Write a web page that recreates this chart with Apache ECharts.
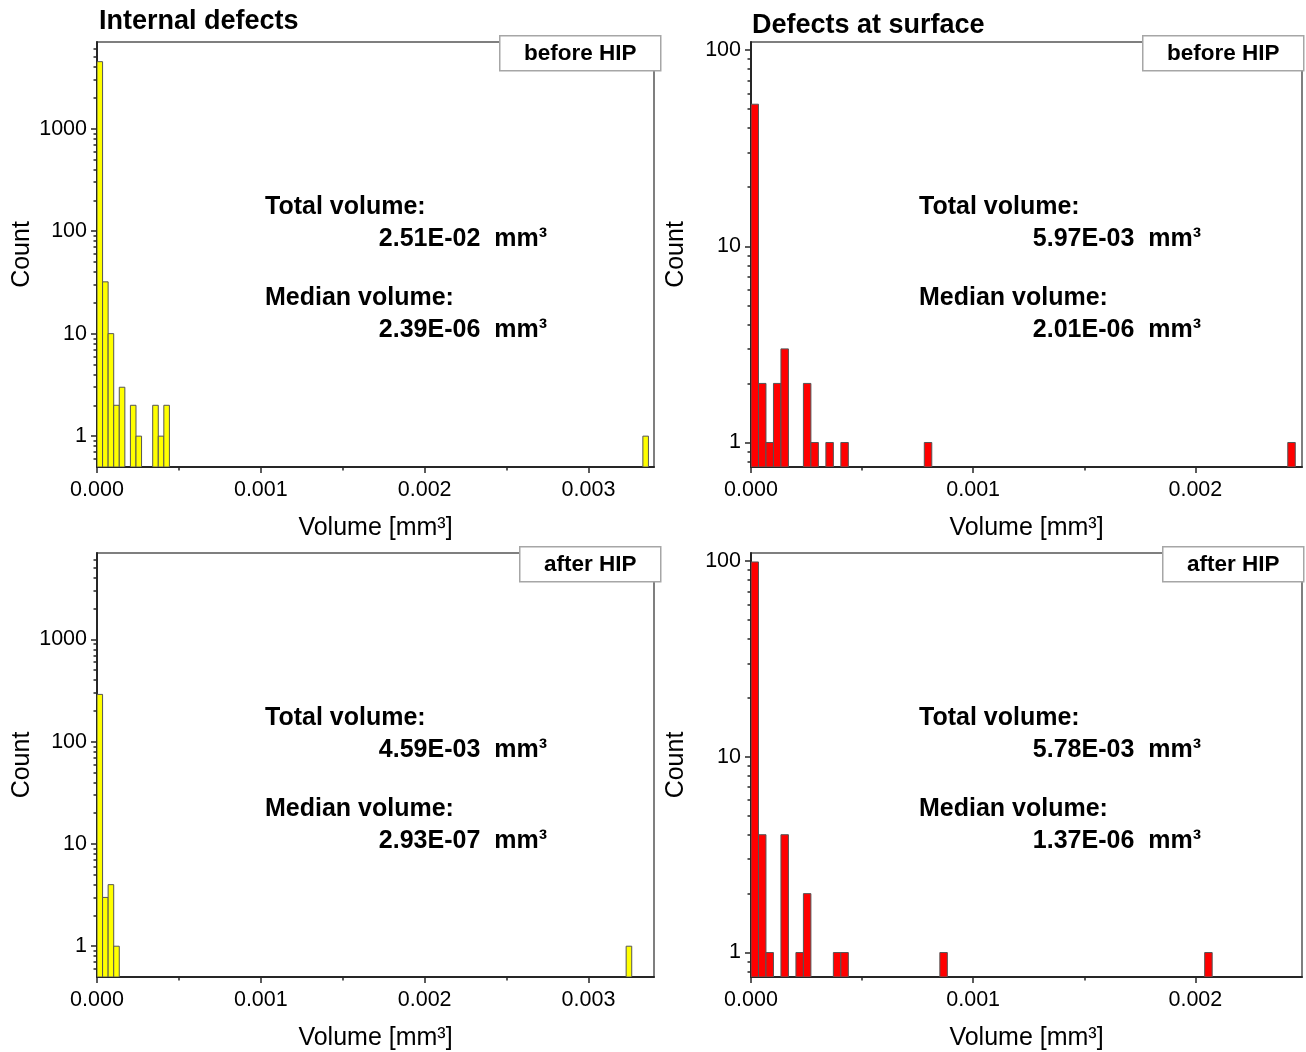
<!DOCTYPE html>
<html><head><meta charset="utf-8">
<script src="https://cdn.jsdelivr.net/npm/echarts@6/dist/echarts.min.js"></script>
<style>html,body{margin:0;padding:0;background:#fff}#c{width:1306px;height:1052px}</style>
</head><body><div id="c"></div>
<script>
// ---------- data ----------
const internalBinWidth = 3.4e-5;   // mm³ per histogram bin
const surfaceBinWidth = 3.37e-5;

const internalBeforeCounts = [4500, 32, 10, 2, 3, 0, 2, 1, 0, 0, 2, 1, 2];
const internalBeforeOutlierStart = [3.332e-3];
const internalBeforeOutlierCount = [1];

const internalAfterCounts = [290, 3, 4, 1];
const internalAfterOutlierStart = [3.23e-3];
const internalAfterOutlierCount = [1];

const surfaceBeforeCounts = [53, 2, 1, 2, 3, 0, 0, 2, 1, 0, 1, 0, 1];
const surfaceBeforeOutlierStart = [7.8e-4, 2.416e-3];
const surfaceBeforeOutlierCount = [1, 1];

const surfaceAfterCounts = [99, 4, 1, 0, 4, 0, 1, 2, 0, 0, 0, 1, 1];
const surfaceAfterOutlierStart = [8.5e-4, 2.042e-3];
const surfaceAfterOutlierCount = [1, 1];

const internalXTicks = [0, 0.001, 0.002, 0.003];
const internalXMinor = [0.0005, 0.0015, 0.0025];
const surfaceXTicks = [0, 0.001, 0.002];
const surfaceXMinor = [0.0005, 0.0015];
const internalYTicks = [1, 10, 100, 1000];
const surfaceYTicks = [1, 10, 100];

const panelTitles = ['Internal defects', 'Defects at surface'];
const stateLabels = ['before HIP', 'after HIP'];
const totalVolumes = ['2.51E-02', '5.97E-03', '4.59E-03', '5.78E-03'];
const medianVolumes = ['2.39E-06', '2.01E-06', '2.93E-07', '1.37E-06'];

// ---------- helpers ----------
function binsToData(counts, width, outStart, outCount, w2) {
  const d = [];
  counts.forEach((c, i) => { if (c > 0) d.push([i * width, (i + 1) * width, c]); });
  outStart.forEach((s, i) => d.push([s, s + w2, outCount[i]]));
  return d;
}
function minorLog(min, max) {
  const r = [];
  for (let e = -1; e <= 4; e++) {
    for (let m = 2; m <= 9; m++) {
      const v = +(m * Math.pow(10, e)).toPrecision(6);
      if (v > min * 1.001 && v < max * 0.999) r.push(v);
    }
  }
  return r;
}

const FONT = 'Liberation Sans, Arial, sans-serif';
const panels = [
  { grid: { left: 97, top: 42, width: 557, height: 425 }, xMax: 0.0034, yMin: 0.5, yMax: 7000,
    xt: internalXTicks, xm: internalXMinor, yt: internalYTicks, color: '#ffff00',
    data: binsToData(internalBeforeCounts, internalBinWidth, internalBeforeOutlierStart, internalBeforeOutlierCount, internalBinWidth) },
  { grid: { left: 751, top: 42, width: 551, height: 425 }, xMax: 0.00248, yMin: 0.75, yMax: 110,
    xt: surfaceXTicks, xm: surfaceXMinor, yt: surfaceYTicks, color: '#ff0000',
    data: binsToData(surfaceBeforeCounts, surfaceBinWidth, surfaceBeforeOutlierStart, surfaceBeforeOutlierCount, surfaceBinWidth) },
  { grid: { left: 97, top: 553, width: 557, height: 424 }, xMax: 0.0034, yMin: 0.5, yMax: 7000,
    xt: internalXTicks, xm: internalXMinor, yt: internalYTicks, color: '#ffff00',
    data: binsToData(internalAfterCounts, internalBinWidth, internalAfterOutlierStart, internalAfterOutlierCount, internalBinWidth) },
  { grid: { left: 751, top: 553, width: 551, height: 424 }, xMax: 0.00248, yMin: 0.75, yMax: 110,
    xt: surfaceXTicks, xm: surfaceXMinor, yt: surfaceYTicks, color: '#ff0000',
    data: binsToData(surfaceAfterCounts, surfaceBinWidth, surfaceAfterOutlierStart, surfaceAfterOutlierCount, surfaceBinWidth) }
];

const grids = [], xAxes = [], yAxes = [], series = [], graphics = [];
const axisLine = { show: true, onZero: false, lineStyle: { color: '#262626', width: 2 } };
panels.forEach((p, i) => {
  grids.push(Object.assign({ show: true, borderColor: '#555', borderWidth: 1.5, backgroundColor: 'transparent' }, p.grid));
  // major x axis
  xAxes.push({ type: 'value', gridIndex: i, position: 'bottom', min: 0, max: p.xMax, axisLine,
    splitLine: { show: false },
    axisTick: { show: true, length: 6, customValues: p.xt, lineStyle: { color: '#262626', width: 1.5 } },
    axisLabel: { customValues: p.xt, margin: 12, color: '#000', fontSize: 21.5, fontFamily: FONT,
      formatter: v => Number(v).toFixed(3) },
    name: 'Volume [mm³]', nameLocation: 'middle', nameGap: 49,
    nameTextStyle: { color: '#000', fontSize: 25, fontFamily: FONT } });
  // minor x axis
  xAxes.push({ type: 'value', gridIndex: i, position: 'bottom', min: 0, max: p.xMax, axisLine: { show: false },
    splitLine: { show: false }, axisLabel: { show: false },
    axisTick: { show: true, length: 3.5, customValues: p.xm, lineStyle: { color: '#262626', width: 1.5 } } });
  // major y axis (log)
  yAxes.push({ type: 'log', logBase: 10, gridIndex: i, position: 'left', min: p.yMin, max: p.yMax, axisLine,
    splitLine: { show: false }, minorTick: { show: false },
    axisTick: { show: true, length: 6, customValues: p.yt, lineStyle: { color: '#262626', width: 1.5 } },
    axisLabel: { customValues: p.yt, margin: 10, color: '#000', fontSize: 21.5, fontFamily: FONT,
      formatter: v => String(Math.round(v)) },
    name: 'Count', nameLocation: 'middle', nameGap: 62,
    nameTextStyle: { color: '#000', fontSize: 25, fontFamily: FONT } });
  // minor y axis
  yAxes.push({ type: 'log', logBase: 10, gridIndex: i, position: 'left', min: p.yMin, max: p.yMax, axisLine: { show: false },
    splitLine: { show: false }, axisLabel: { show: false },
    axisTick: { show: true, length: 3.5, customValues: minorLog(p.yMin, p.yMax), lineStyle: { color: '#262626', width: 1.5 } } });

  const yBase = p.yMin;
  series.push({ type: 'custom', xAxisIndex: 2 * i, yAxisIndex: 2 * i, clip: true,
    encode: { x: [0, 1], y: 2 },
    data: p.data,
    renderItem: (params, api) => {
      const a = api.coord([api.value(0), api.value(2)]);
      const b = api.coord([api.value(1), yBase]);
      return { type: 'rect', shape: { x: a[0], y: a[1], width: b[0] - a[0], height: b[1] - a[1] },
        style: { fill: p.color, stroke: '#555', lineWidth: 1 } };
    } });

  // annotation texts
  const gx = p.grid.left, gy = p.grid.top;
  const leftX = gx + 168, rightX = gx + 450;
  const tStyle = { fontSize: 25, fontWeight: 'bold', fontFamily: FONT, fill: '#000' };
  graphics.push({ type: 'text', left: leftX, top: gy + 153, z: 50,
    style: Object.assign({ text: 'Total volume:' }, tStyle) });
  graphics.push({ type: 'text', right: 1306 - rightX, top: gy + 185, z: 50,
    style: Object.assign({ text: totalVolumes[i] + '  mm³' }, tStyle) });
  graphics.push({ type: 'text', left: leftX, top: gy + 244, z: 50,
    style: Object.assign({ text: 'Median volume:' }, tStyle) });
  graphics.push({ type: 'text', right: 1306 - rightX, top: gy + 276, z: 50,
    style: Object.assign({ text: medianVolumes[i] + '  mm³' }, tStyle) });

  // state box
  const row = i < 2 ? 0 : 1;
  const boxW = row === 0 ? 161 : 141;
  const boxRight = gx + p.grid.width + (i % 2 === 0 ? 6 : 1);
  graphics.push({ type: 'group', left: boxRight - boxW, top: gy - 7, z: 60, children: [
    { type: 'rect', shape: { x: 0, y: 0, width: boxW, height: 35 },
      style: { fill: '#fff', stroke: '#a6a6a6', lineWidth: 1.5 } },
    { type: 'text', x: boxW / 2, y: 18.5,
      style: { text: stateLabels[row], textAlign: 'center', textVerticalAlign: 'middle',
        fontSize: 22.5, fontWeight: 'bold', fontFamily: FONT, fill: '#000' } }
  ] });
});

graphics.push({ type: 'text', left: 99, top: 8, z: 50,
  style: { text: panelTitles[0], fontSize: 27, fontWeight: 'bold', fontFamily: FONT, fill: '#000' } });
graphics.push({ type: 'text', left: 752, top: 12, z: 50,
  style: { text: panelTitles[1], fontSize: 27, fontWeight: 'bold', fontFamily: FONT, fill: '#000' } });

const chart = echarts.init(document.getElementById('c'), null, { renderer: 'canvas' });
chart.setOption({ animation: false, backgroundColor: '#fff', grid: grids, xAxis: xAxes, yAxis: yAxes,
  series, graphic: graphics });
</script></body></html>
